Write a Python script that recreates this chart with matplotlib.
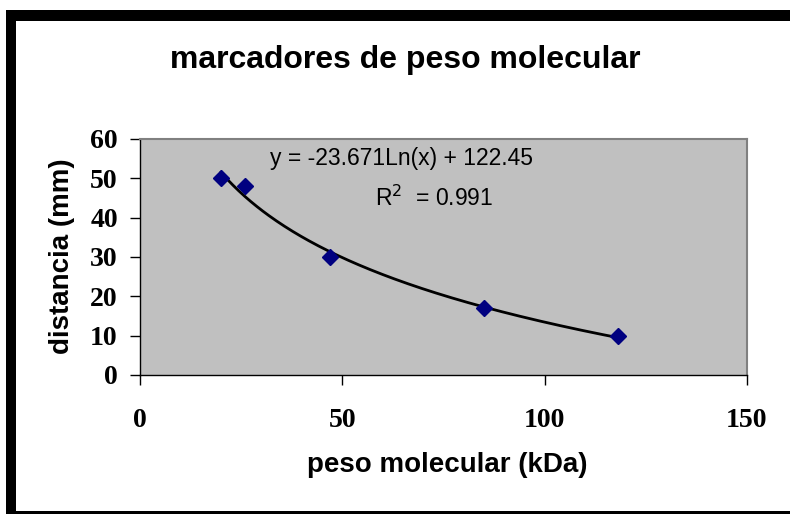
import numpy as np
import matplotlib.pyplot as plt
from matplotlib.patches import Rectangle

# datos de los marcadores
peso = [20, 26, 47, 85, 118]
distancia = [50, 48, 30, 17, 10]

# línea de tendencia logarítmica
a, b = -23.671, 122.45
r2 = 0.991

x_ticks = [0, 50, 100, 150]
y_ticks = [0, 10, 20, 30, 40, 50, 60]

W, H = 790, 514
fig = plt.figure(figsize=(W / 100, H / 100), dpi=100)
fig.patch.set_facecolor('white')

# marco del gráfico (estilo Excel)
def px_rect(x0, y0, x1, y1, color='black'):
    fig.patches.append(Rectangle((x0 / W, 1 - y1 / H), (x1 - x0) / W, (y1 - y0) / H,
                                 transform=fig.transFigure, facecolor=color,
                                 edgecolor='none', zorder=0))

px_rect(6, 10, 16, 514)
px_rect(6, 10, 790, 21)
px_rect(6, 511, 790, 514)

ax = fig.add_axes([140 / W, 1 - 375 / H, 607 / W, 236 / H])
ax.set_facecolor('#C0C0C0')

xs = np.linspace(min(peso), max(peso), 200)
ax.plot(xs, a * np.log(xs) + b, color='black', lw=2, zorder=2)
ax.plot(peso, distancia, 'D', color='#000080', markersize=8, zorder=3)

ax.set_xlim(0, 150)
ax.set_ylim(0, 60)
ax.set_xticks(x_ticks)
ax.set_yticks(y_ticks)
ax.tick_params(direction='out', length=7, width=1, color='black')
ax.tick_params(axis='y', pad=9)
ax.tick_params(axis='x', pad=17)
for lab in ax.get_xticklabels() + ax.get_yticklabels():
    lab.set_fontfamily('Liberation Serif')
    lab.set_fontweight('bold')
    lab.set_fontsize(20)

for s in ['left', 'bottom']:
    ax.spines[s].set_color('black')
    ax.spines[s].set_linewidth(1)
for s in ['top', 'right']:
    ax.spines[s].set_color('#808080')
    ax.spines[s].set_linewidth(1.5)

fig.text(447 / W, 1 - 465 / H, 'peso molecular (kDa)', fontfamily='Liberation Sans',
         fontweight='bold', fontsize=20, ha='center', va='center')
fig.text(62 / W, 1 - 256 / H, 'distancia (mm)', fontfamily='Liberation Sans',
         fontweight='bold', fontsize=20, ha='center', va='center', rotation=90)

fig.text(405 / W, 1 - 60 / H, 'marcadores de peso molecular', fontfamily='Liberation Sans',
         fontweight='bold', fontsize=23, ha='center', va='center')

fig.text(401 / W, 1 - 158 / H, f'y = {a}Ln(x) + {b}',
         fontfamily='Liberation Sans', fontsize=16.5, ha='center', va='center')
fig.text(434 / W, 1 - 198 / H, f'R$^2$  = {r2}',
         fontfamily='Liberation Sans', fontsize=16.5, ha='center', va='center')

fig.savefig('out.png', dpi=100)
